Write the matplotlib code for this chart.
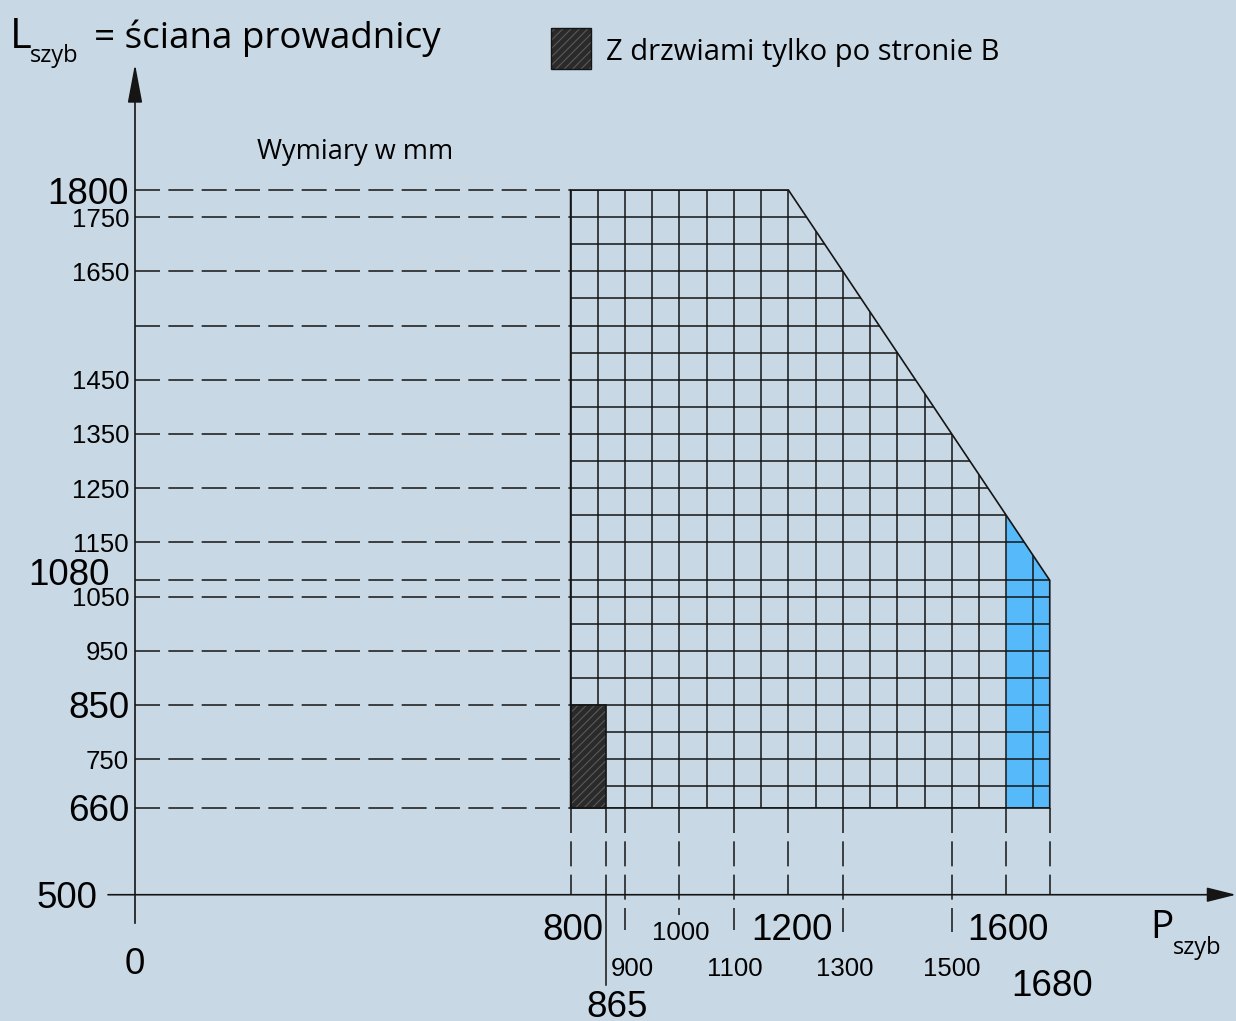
import matplotlib
matplotlib.use("Agg")
import matplotlib.pyplot as plt
from matplotlib.patches import Polygon, Rectangle

plt.rcParams['lines.scale_dashes'] = False

# ---------------- data ----------------
grid_p = [800, 850, 900, 950, 1000, 1050, 1100, 1150, 1200, 1250, 1300, 1350,
          1400, 1450, 1500, 1550, 1600, 1650, 1680]
grid_l = [660, 700, 750, 800, 850, 900, 950, 1000, 1050, 1080, 1150, 1200,
          1250, 1300, 1350, 1400, 1450, 1500, 1550, 1600, 1650, 1700, 1750, 1800]
outline_p = [800, 1200, 1680, 1680, 800]
outline_l = [1800, 1800, 1080, 660, 660]
blue_p = [1600, 1600, 1680, 1680]
blue_l = [660, 1200, 1080, 660]
door_p = [800, 865]
door_l = [660, 850]
dash_l = [1800, 1750, 1650, 1550, 1450, 1350, 1250, 1150, 1080, 1050, 950, 850, 750, 660]
dash_p = [800, 865, 900, 1000, 1100, 1200, 1300, 1500, 1600, 1680]
dash_p_end = [500, 500, 435, 463, 435, 500, 432, 432, 500, 500]
ylab_big = [1800, 1080, 850, 660, 500]
ylab_small = [1750, 1650, 1450, 1350, 1250, 1150, 1050, 950, 750]
xlab_big = [0, 800, 865, 1200, 1600, 1680]
xlab_small = [900, 1000, 1100, 1300, 1500]
y_title = "ściana prowadnicy"
legend_text = "Z drzwiami tylko po stronie B"
units_text = "Wymiary w mm"

# ---------------- layout ----------------
W, H = 1236, 1021
BG = '#c9d8e5'
BLUE = '#55b9fa'
KX = 0.5445   # px per mm (x)
KY = 0.5421   # px per mm (y)
PX0 = 135     # px of x=0
PY1800 = 190  # px of y=1800

def dx(px):
    return (px - PX0) / KX

def dy(py):
    return 1800 - (py - PY1800) / KY

fig = plt.figure(figsize=(W / 100, H / 100), dpi=100, facecolor=BG)
ax = fig.add_axes([0, 0, 1, 1])
ax.set_facecolor(BG)
ax.set_xlim(dx(0), dx(W))
ax.set_ylim(dy(H), dy(0))
ax.axis('off')

LC = '#151515'
DASH = (0, (18, 6))

# blue region
ax.add_patch(Polygon(list(zip(blue_p, blue_l)), closed=True, facecolor=BLUE,
                     edgecolor='none', zorder=1))

# grid clipped by outline
outline = Polygon(list(zip(outline_p, outline_l)), closed=True, facecolor='none',
                  edgecolor=LC, lw=1.2, zorder=4)
ax.add_patch(outline)
for p in grid_p:
    ln, = ax.plot([p, p], [min(outline_l), max(outline_l)], color=LC, lw=1.1, zorder=2)
    ln.set_clip_path(outline)
for l in grid_l:
    ln, = ax.plot([min(outline_p), max(outline_p)], [l, l], color=LC, lw=1.1, zorder=2)
    ln.set_clip_path(outline)

# door rectangle (hatched)
plt.rcParams['hatch.linewidth'] = 0.8
ax.add_patch(Rectangle((door_p[0], door_l[0]), door_p[1] - door_p[0], door_l[1] - door_l[0],
                       facecolor='#2a2a2a', edgecolor='#5a5a5a', hatch='////', lw=0, zorder=3))
ax.add_patch(Rectangle((door_p[0], door_l[0]), door_p[1] - door_p[0], door_l[1] - door_l[0],
                       facecolor='none', edgecolor=LC, lw=1.2, zorder=4))

# dashed leaders
for l in dash_l:
    ax.plot([0, 800], [l, l], color=LC, lw=1.1, linestyle=DASH, zorder=2)
for p, e in zip(dash_p, dash_p_end):
    ax.plot([p, p], [660, e], color=LC, lw=1.1, linestyle=DASH, zorder=2)
# 865 continues solid below axis
ax.plot([865, 865], [500, dy(985)], color=LC, lw=1.1, zorder=2)

# axes with arrows
ax.plot([0, 0], [dy(923), 500], color=LC, lw=1.2, zorder=5)
ax.annotate('', xy=(0, dy(64)), xytext=(0, 501),
            arrowprops=dict(arrowstyle='-|>,head_length=2.4,head_width=0.45',
                            mutation_scale=10, color=LC, lw=1.2, shrinkA=0, shrinkB=0))
ax.annotate('', xy=(dx(1236), 500), xytext=(dx(108), 500),
            arrowprops=dict(arrowstyle='-|>,head_length=1.8,head_width=0.45',
                            mutation_scale=10, color=LC, lw=1.2, shrinkA=0, shrinkB=0))

# ---------------- tick labels ----------------
NUMF = 'Liberation Sans'
BIG = 26.5
SMALL = 18.5
ynudge = {1080: 17, 500: 0}
yright = {1080: dx(110), 500: dx(97)}
for v in ylab_big:
    ax.text(yright.get(v, dx(129)), v + ynudge.get(v, 0), str(v), fontsize=BIG,
            family=NUMF, ha='right', va='center_baseline', color='k', zorder=6)
for v in ylab_small:
    ax.text(dx(129), v, str(v), fontsize=SMALL, family=NUMF, ha='right',
            va='center_baseline', color='k', zorder=6)

xrow = {0: 960, 800: 927, 865: 1003, 1200: 927, 1600: 927, 1680: 982,
        900: 966, 1000: 931, 1100: 966, 1300: 966, 1500: 966}
xshift = {0: 0, 800: 2, 865: 11, 1200: 4, 1600: 2, 1680: 2,
          900: 7, 1000: 1, 1100: 1, 1300: 2, 1500: 0}
for v in xlab_big:
    ax.text(v + xshift[v] / KX, dy(xrow[v]), str(v), fontsize=BIG, family=NUMF,
            ha='center', va='center_baseline', color='k', zorder=6)
for v in xlab_small:
    ax.text(v + xshift[v] / KX, dy(xrow[v]), str(v), fontsize=SMALL, family=NUMF,
            ha='center', va='center_baseline', color='k', zorder=6)

# ---------------- titles ----------------
TF = 'Open Sans'
def ftext(px, py, s, **kw):
    fig.text(px / W, 1 - py / H, s, family=TF, color='k', va='baseline', **kw)

ftext(10, 48, 'L', fontsize=30)
ftext(30, 62, 'szyb', fontsize=17)
ftext(94, 48, '= ' + y_title, fontsize=26.5)
ftext(257, 159, units_text, fontsize=19.5)
ftext(1150, 938, 'P', fontsize=28)
ftext(1173, 954, 'szyb', fontsize=17)

# legend
fig.patches.append(Rectangle((551 / W, 1 - 69 / H), 40 / W, 41 / H, transform=fig.transFigure,
                             facecolor='#2a2a2a', edgecolor='#5a5a5a', hatch='////', lw=0))
fig.patches.append(Rectangle((551 / W, 1 - 69 / H), 40 / W, 41 / H, transform=fig.transFigure,
                             facecolor='none', edgecolor=LC, lw=1.0))
ftext(606, 60, legend_text, fontsize=21)

fig.savefig('out.png', dpi=100, facecolor=BG)
